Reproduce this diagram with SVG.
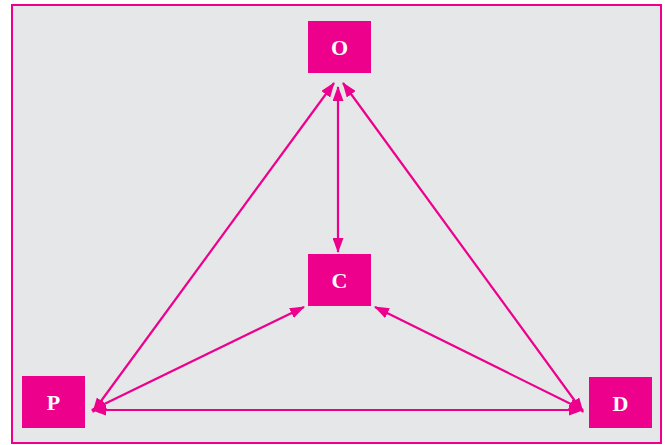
<svg xmlns="http://www.w3.org/2000/svg" width="665" height="445" viewBox="0 0 665 445">
<style>
.n{fill:#ec008c}
.t{fill:#fff;font-family:"Liberation Serif",serif;font-weight:bold;font-size:22px;text-anchor:middle}
.c{stroke:#ec008c;stroke-width:2.2;fill:none;marker-start:url(#a);marker-end:url(#a)}
</style>
<defs>
<marker id="a" viewBox="0 0 15 11" refX="14" refY="5.5" markerWidth="15" markerHeight="11" markerUnits="userSpaceOnUse" orient="auto-start-reverse">
<path d="M0,0 L15,5.5 L0,11 Z" fill="#ec008c"/>
</marker>
</defs>
<rect x="12" y="5" width="649" height="438" fill="#e6e7e9" stroke="#ec008c" stroke-width="2"/>
<g id="connectors">
<line class="c" x1="338" y1="87" x2="338" y2="252"/>
<line class="c" x1="334" y1="83" x2="93" y2="412"/>
<line class="c" x1="343" y1="83" x2="583" y2="412"/>
<line class="c" x1="304" y1="307" x2="92" y2="410"/>
<line class="c" x1="375" y1="307" x2="583" y2="410"/>
<line class="c" x1="92" y1="410" x2="583" y2="410"/>
</g>
<g id="O"><rect class="n" x="308" y="21" width="63" height="52"/><text class="t" x="339.5" y="55">O</text></g>
<g id="C"><rect class="n" x="308" y="254" width="63" height="52"/><text class="t" x="339.5" y="288">C</text></g>
<g id="P"><rect class="n" x="22" y="376" width="63" height="52"/><text class="t" x="53.5" y="410">P</text></g>
<g id="D"><rect class="n" x="589" y="377" width="63" height="51"/><text class="t" x="620.5" y="410.5">D</text></g>
</svg>
